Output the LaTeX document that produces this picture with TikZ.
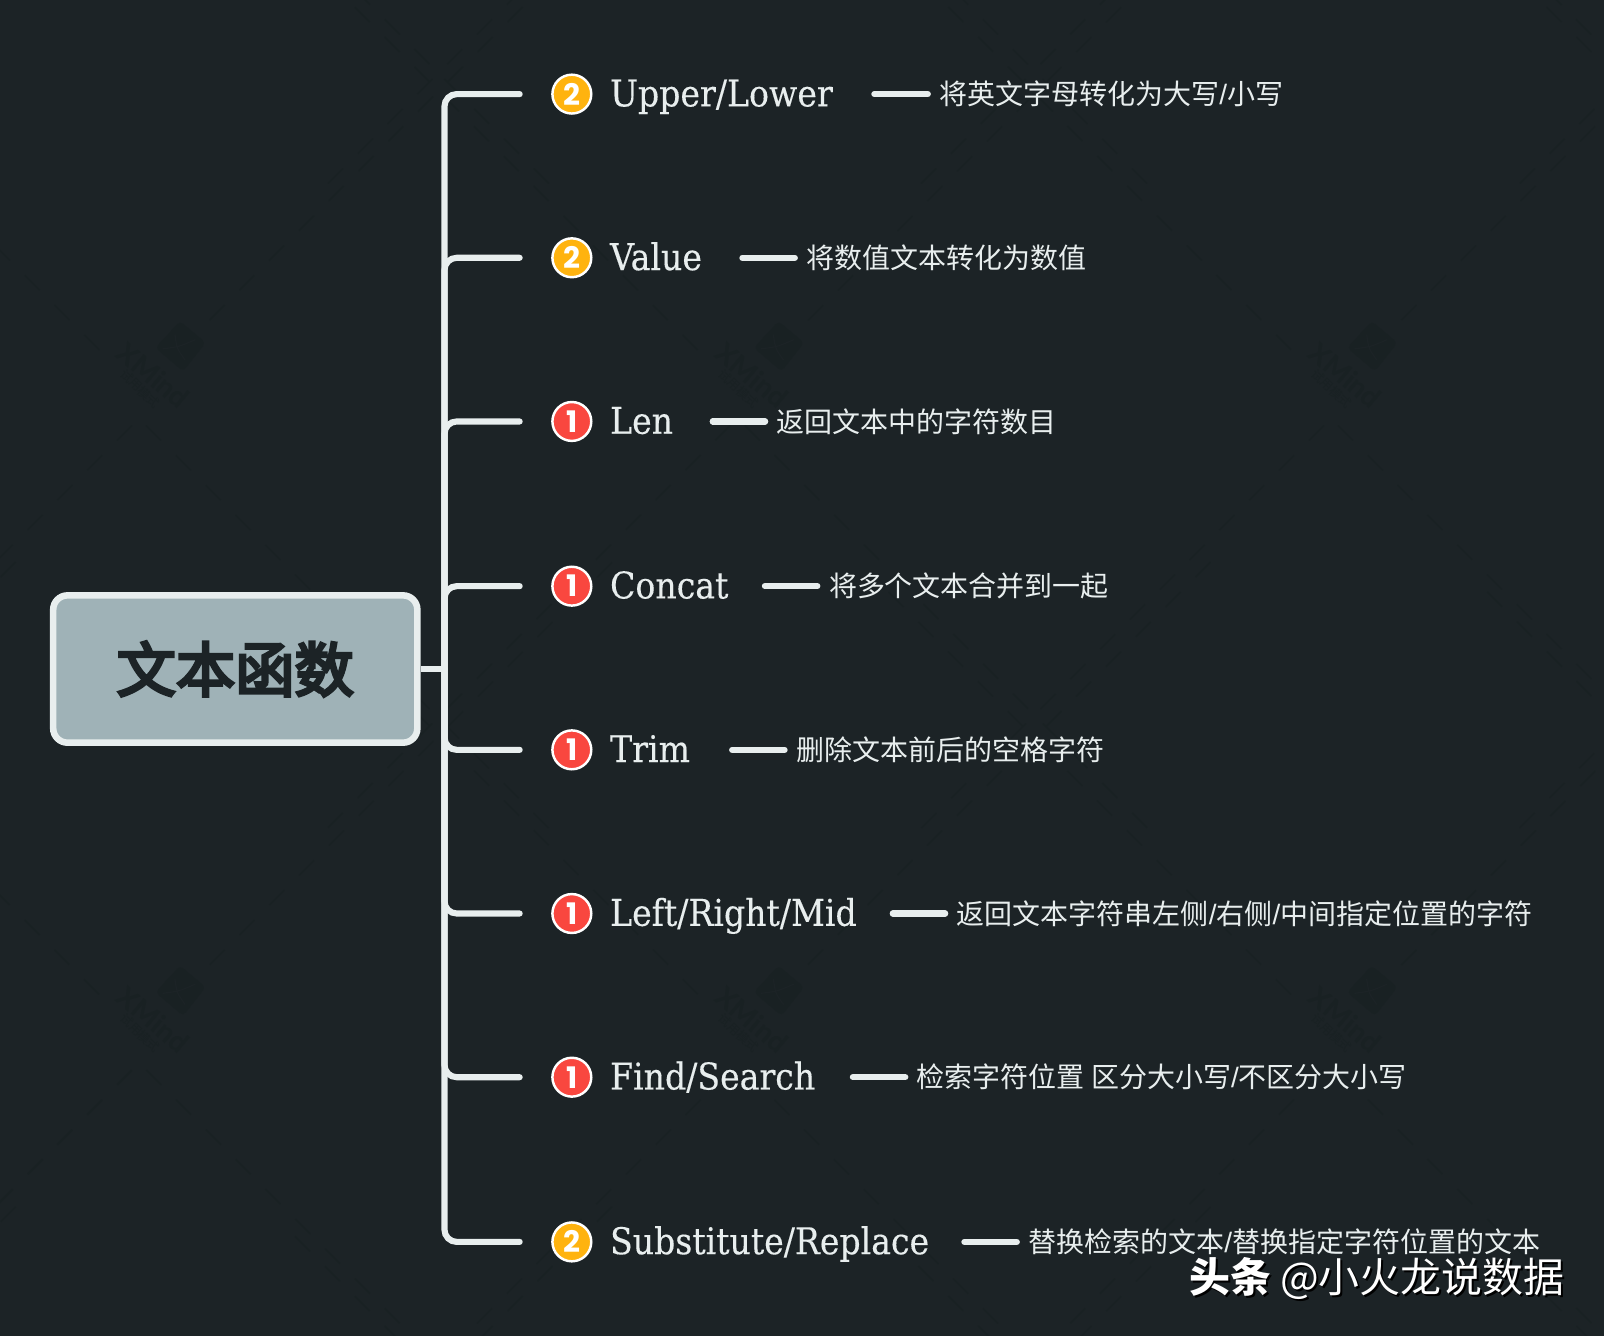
\documentclass[tikz,border=0pt]{standalone}
\usepackage{fontspec}
\setmainfont{Noto Sans CJK SC}
\newfontfamily\latinserif[FakeBold=0.25]{DejaVu Serif Condensed}
\newfontfamily\badgefont{Poppins}
\newfontfamily\cjkfont{Noto Sans CJK SC}
\newfontfamily\titlefont[FakeBold=5]{Noto Sans CJK SC}
\newfontfamily\slfont{Liberation Sans}
\newfontfamily\wmfont{Lato}
\newcommand{\nsl}{{\slfont/}}
\definecolor{bgc}{HTML}{1C2326}
\definecolor{ink}{HTML}{E8EEEE}
\definecolor{rootfill}{HTML}{9FB2B7}
\definecolor{rootink}{HTML}{1C2326}
\definecolor{faintmark}{HTML}{192123}
\definecolor{prioA}{HTML}{F9473F}
\definecolor{prioB}{HTML}{FFB30F}
\tikzset{
  x=0.5pt,y=-0.5pt,
  conn/.style={draw=ink,line width=3pt,line cap=round},
  stub/.style={draw=ink,line width=3pt},
  rootbox/.style={draw=ink,fill=rootfill,line width=3.2pt,rounded corners=7pt,minimum width=178pt,minimum height=72pt,inner sep=0pt,text=rootink,font=\titlefont\fontsize{29}{29}\selectfont},
  badge/.style={circle,draw=white,line width=1.2pt,minimum size=19pt,inner sep=0pt,text=white,font=\badgefont\bfseries\fontsize{14.5}{14.5}\selectfont},
  topic/.style={anchor=base west,inner sep=0pt,text=ink,font=\latinserif\fontsize{18}{18}\selectfont},
  note/.style={anchor=base west,inner ysep=0pt,inner xsep=4pt,text=ink,font=\cjkfont\fontsize{13.68}{14}\selectfont},
  stamp/.style={anchor=base west,inner sep=0pt,font=\cjkfont\fontsize{20}{20}\selectfont},
  ray/.style={draw=faintmark,line width=0.7pt,dash pattern=on 10.3pt off 10.3pt},
}
\begin{document}
\begin{tikzpicture}
\useasboundingbox (0,0) rectangle (1568,1306);
\fill[bgc] (0,0) rectangle (1568,1306);
% faint XMind background
\begin{scope}
\clip (0,0) rectangle (1568,1306);
\foreach \tx in {-423,160,745,1325,1910}{
  \foreach \ty in {-275,355,985,1615}{
    \draw[ray] (\tx+45,\ty-42) -- (\tx+445,\ty-442);
    \draw[ray] (\tx-31,\ty+61) -- (\tx-431,\ty+461);
    \draw[ray] (\tx-63,\ty-13) -- (\tx-463,\ty-413);
    \draw[ray] (\tx-17,\ty+61) -- (\tx+383,\ty+461);
  }
}
\end{scope}
\foreach \mx/\my [count=\mi] in {160/355,745/355,1325/355,160/985,745/985,1325/985}{
  \node[rotate=-40,text=faintmark,font=\wmfont\bfseries\fontsize{13.6}{14}\selectfont,inner sep=0pt] (wm\mi) at (\mx-10,\my+12) {XMind};
  \node[rotate=-43,text=faintmark,font=\cjkfont\fontsize{6}{6}\selectfont,inner sep=0pt] (wt\mi) at (\mx-23,\my+25) {试用模式};
  \fill[faintmark,rounded corners=2pt] (\mx+16,\my-41) -- (\mx+41,\my-20) -- (\mx+19,\my+8) -- (\mx-8,\my-15) -- cycle;
  \draw[bgc,line width=0.6pt] (\mx+11,\my-28) .. controls (\mx+13,\my-14) .. (\mx+21,\my-3);
  \draw[bgc,line width=0.6pt] (\mx+31,\my-23) .. controls (\mx+15,\my-16) .. (\mx-1,\my-14);
}
\node[rootbox] (root) at (230,654) {\raisebox{1pt}{文本函数}};
\coordinate (hub) at (434.5,654);
\draw[stub] (root.east) -- (hub);
\foreach \i/\yy/\lab/\dx/\nx/\txt/\col/\num in {
 1/92/{Upper\slash Lower}/854.7/910/{将英文字母转化为大写\nsl 小写}/prioB/2,
 2/252/Value/725.7/780/{将数值文本转化为数值}/prioB/2,
 3/412/Len/696.7/751/{返回文本中的字符数目}/prioA/1,
 4/573/Concat/747.7/802/{将多个文本合并到一起}/prioA/1,
 5/733/Trim/715.7/770/{删除文本前后的空格字符}/prioA/1,
 6/893/{Left\slash Right\slash Mid}/872.7/927/{返回文本字符串左侧\nsl 右侧\nsl 中间指定位置的字符}/prioA/1,
 7/1053/{Find\slash Search}/833.7/888/{检索字符位置 区分大小写\nsl 不区分大小写}/prioA/1,
 8/1214/{Substitute\slash Replace}/942.7/997/{替换检索的文本\nsl 替换指定字符位置的文本}/prioB/2}{
  \coordinate (b\i) at (511,\yy);
  \node[badge,fill=\col] (ic\i) at (559,\yy) {\num};
  \node[topic] (t\i) at (596,\yy+12) {\lab};
  \coordinate (d\i) at (\dx,\yy);
  \node[note] (n\i) at (\nx,\yy+10.5) {\txt};
  \draw[conn,rounded corners=6pt,shorten >=1.5pt] (hub) -- (hub |- b\i) -- (b\i);
  \draw[conn,shorten >=1.5pt] (d\i) -- (d\i -| n\i.west);
}
\node[stamp,text=black] (sh) at (1164,1265) {\textbf{头条} @小火龙说数据};
\node[stamp,text=white] (st) at (1162,1263) {\textbf{头条} @小火龙说数据};
\end{tikzpicture}
\end{document}
